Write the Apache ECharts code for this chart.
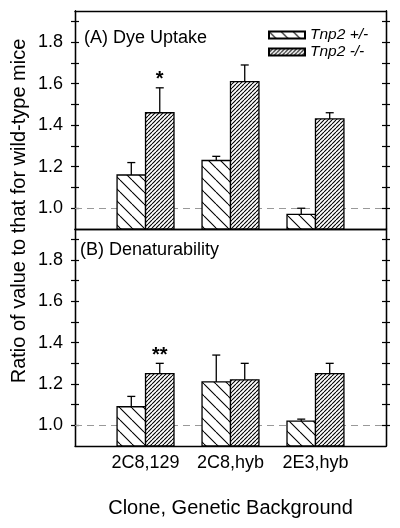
<!DOCTYPE html>
<html><head><meta charset="utf-8">
<script src="https://cdn.jsdelivr.net/npm/echarts@6/dist/echarts.min.js"></script>
<style>html,body{margin:0;padding:0;background:#fff}#c{width:400px;height:528px}</style>
</head><body><div id="c"></div>
<script>
// ---- data ----
const categories = ['2C8,129', '2C8,hyb', '2E3,hyb'];
const seriesNames = ['Tnp2 +/-', 'Tnp2 -/-'];
const dyeHet = [1.16, 1.23, 0.97];
const dyeHetErr = [0.06, 0.02, 0.03];
const dyeNull = [1.46, 1.61, 1.43];
const dyeNullErr = [0.12, 0.08, 0.03];
const denHet = [1.09, 1.21, 1.02];
const denHetErr = [0.05, 0.13, 0.01];
const denNull = [1.25, 1.22, 1.25];
const denNullErr = [0.05, 0.08, 0.05];
const dyeNullSig = ['*', '', ''];
const denNullSig = ['**', '', ''];
const yTickValues = [1.0, 1.1, 1.2, 1.3, 1.4, 1.5, 1.6, 1.7, 1.8, 1.9];
const yLabelValues = [1.0, 1.2, 1.4, 1.6, 1.8];
const panelTitles = ['(A) Dye Uptake', '(B) Denaturability'];
const yTitle = 'Ratio of value to that for wild-type mice';
const xTitle = 'Clone, Genetic Background';
const refValue = 1.0;

// ---- patterns ----
function makePattern(size, dir, lw) {
  const cv = document.createElement('canvas');
  cv.width = size; cv.height = size;
  const ctx = cv.getContext('2d');
  ctx.fillStyle = '#fff'; ctx.fillRect(0, 0, size, size);
  ctx.strokeStyle = '#000'; ctx.lineWidth = lw;
  ctx.beginPath();
  for (let k = -1; k <= 1; k++) {
    if (dir === 'back') { ctx.moveTo(k * size, 0); ctx.lineTo(k * size + size, size); }
    else { ctx.moveTo(k * size, size); ctx.lineTo(k * size + size, 0); }
  }
  ctx.stroke();
  return cv;
}
const patHet = { image: makePattern(12, 'back', 1.1), repeat: 'repeat' };
const patNull = { image: makePattern(4, 'fwd', 1.1), repeat: 'repeat' };

const X_MIN = 0.17, X_MAX = 3.83, Y_MIN = 0.9, Y_MAX = 1.95, BAR_W = 0.335;
const FONT = '"Liberation Sans", Arial, sans-serif';

function renderer(side, sigs) {
  return function (params, api) {
    const x = api.value(0), y = api.value(1), err = api.value(2);
    const top = api.coord([x, y]);
    const base = api.coord([x, Y_MIN]);
    const errTop = api.coord([x, y + err]);
    const bw = api.size([BAR_W, 0])[0];
    const x0 = side < 0 ? top[0] - bw : top[0];
    const cx = x0 + bw / 2;
    const children = [
      { type: 'rect', shape: { x: x0, y: top[1], width: bw, height: base[1] - top[1] },
        style: { fill: side < 0 ? patHet : patNull, stroke: '#000', lineWidth: 1.3 } },
      { type: 'line', shape: { x1: cx, y1: top[1], x2: cx, y2: errTop[1] }, style: { stroke: '#000', lineWidth: 1.3 } },
      { type: 'line', shape: { x1: cx - 4, y1: errTop[1], x2: cx + 4, y2: errTop[1] }, style: { stroke: '#000', lineWidth: 1.3 } }
    ];
    const s = sigs ? sigs[params.dataIndex] : '';
    if (s) {
      children.push({ type: 'text', style: { text: s, x: cx, y: errTop[1] + 2, align: 'center', verticalAlign: 'bottom',
        font: 'bold 20px ' + FONT, fill: '#000' } });
    }
    return { type: 'group', children };
  };
}

function mk(vals, errs) { return vals.map((v, i) => [i + 1, v, errs[i]]); }

const grids = [
  { left: 75, right: 14, top: 11, height: 218 },
  { left: 75, right: 14, top: 229, height: 217 }
];

const xAxes = [], yAxes = [], series = [];
grids.forEach((g, gi) => {
  xAxes.push({ type: 'value', gridIndex: gi, min: X_MIN, max: X_MAX, splitLine: { show: false },
    axisLine: { show: true, lineStyle: { color: '#000', width: 1.3 } }, axisTick: { show: false },
    axisLabel: gi === 1 ? { show: true, customValues: [1, 2, 3], formatter: v => categories[Math.round(v) - 1],
      color: '#000', fontSize: 18, fontFamily: FONT, margin: 8 } : { show: false },
    name: gi === 1 ? xTitle : '', nameLocation: 'middle', nameGap: 52,
    nameTextStyle: { color: '#000', fontSize: 20, fontFamily: FONT } });
  xAxes.push({ type: 'value', gridIndex: gi, position: 'top', min: X_MIN, max: X_MAX, splitLine: { show: false },
    axisLine: { show: true, lineStyle: { color: '#000', width: 1.3 } }, axisTick: { show: false }, axisLabel: { show: false } });
  [['left', false, true], ['left', true, false], ['right', false, false], ['right', true, false]].forEach(([pos, inside, lab]) => {
    yAxes.push({ type: 'value', gridIndex: gi, position: pos, min: Y_MIN, max: Y_MAX, splitLine: { show: false },
      axisLine: { show: true, lineStyle: { color: '#000', width: 1.3 } },
      axisTick: { show: true, inside, length: 4, customValues: yTickValues, lineStyle: { color: '#000', width: 1.2 } },
      axisLabel: lab ? { show: true, customValues: yLabelValues, formatter: v => v.toFixed(1), color: '#000',
        fontSize: 18, fontFamily: FONT, margin: 12 } : { show: false } });
  });
});

const panels = [
  [dyeHet, dyeHetErr, dyeNull, dyeNullErr, dyeNullSig],
  [denHet, denHetErr, denNull, denNullErr, denNullSig]
];
panels.forEach((p, gi) => {
  series.push({ type: 'line', xAxisIndex: gi * 2, yAxisIndex: gi * 4, data: [], z: 1, silent: true,
    markLine: { z: 1, silent: true, symbol: 'none', label: { show: false },
      lineStyle: { color: '#999', type: [7, 5], width: 1 }, data: [{ yAxis: refValue }] } });
  series.push({ type: 'custom', name: seriesNames[0], xAxisIndex: gi * 2, yAxisIndex: gi * 4, z: 3,
    itemStyle: { color: patHet, borderColor: '#000', borderWidth: 1 },
    renderItem: renderer(-1, null), data: mk(p[0], p[1]) });
  series.push({ type: 'custom', name: seriesNames[1], xAxisIndex: gi * 2, yAxisIndex: gi * 4, z: 3,
    itemStyle: { color: patNull, borderColor: '#000', borderWidth: 1 },
    renderItem: renderer(1, p[4]), data: mk(p[2], p[3]) });
});

const chart = echarts.init(document.getElementById('c'), null, { renderer: 'canvas' });
chart.setOption({
  animation: false,
  backgroundColor: '#fff',
  textStyle: { fontFamily: FONT },
  title: [
    { text: panelTitles[0], left: 79, top: 24, textStyle: { color: '#000', fontSize: 18, fontWeight: 'normal', fontFamily: FONT } },
    { text: panelTitles[1], left: 75, top: 236, textStyle: { color: '#000', fontSize: 18, fontWeight: 'normal', fontFamily: FONT } }
  ],
  legend: { left: 263, top: 22, orient: 'vertical', itemWidth: 36, itemHeight: 7, itemGap: 1, icon: 'rect',
    data: seriesNames, selectedMode: false,
    textStyle: { color: '#000', fontSize: 15.5, fontStyle: 'italic', fontFamily: FONT } },
  grid: grids,
  xAxis: xAxes,
  yAxis: yAxes,
  graphic: [{ type: 'text', x: 19, y: 211, rotation: Math.PI / 2,
    style: { text: yTitle, align: 'center', verticalAlign: 'middle', font: '20px ' + FONT, fill: '#000' } }],
  series
});
</script></body></html>
